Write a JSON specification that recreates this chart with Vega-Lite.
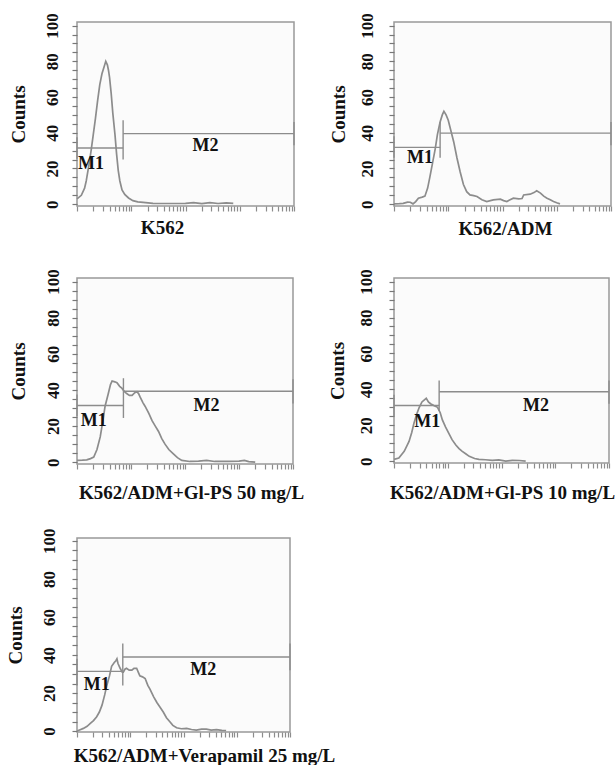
{
  "$schema": "https://vega.github.io/schema/vega-lite/v6.json",
  "padding": {"left": 5, "top": 12, "right": 0, "bottom": 0},
  "background": "white",
  "datasets": {
    "curves": [
      {"panel":"A","x":1,"y":3},{"panel":"A","x":1.202,"y":5},{"panel":"A","x":1.38,"y":9},{"panel":"A","x":1.479,"y":13},{"panel":"A","x":1.66,"y":22},{"panel":"A","x":1.82,"y":30},{"panel":"A","x":1.995,"y":39},{"panel":"A","x":2.188,"y":48},{"panel":"A","x":2.399,"y":58},{"panel":"A","x":2.63,"y":67},{"panel":"A","x":2.884,"y":73},{"panel":"A","x":3.162,"y":77},{"panel":"A","x":3.388,"y":80},{"panel":"A","x":3.631,"y":78},{"panel":"A","x":3.802,"y":75},{"panel":"A","x":3.981,"y":71},{"panel":"A","x":4.266,"y":62},{"panel":"A","x":4.571,"y":51},{"panel":"A","x":5.012,"y":39},{"panel":"A","x":5.37,"y":28},{"panel":"A","x":5.754,"y":19},{"panel":"A","x":6.166,"y":13},{"panel":"A","x":6.761,"y":8},{"panel":"A","x":7.586,"y":5.5},{"panel":"A","x":8.913,"y":3.5},{"panel":"A","x":10.72,"y":2},{"panel":"A","x":13.18,"y":1.3},{"panel":"A","x":16.6,"y":1},{"panel":"A","x":25.1,"y":0.5},{"panel":"A","x":50.1,"y":0.4},{"panel":"A","x":100,"y":0.5},{"panel":"A","x":141,"y":0.9},{"panel":"A","x":200,"y":0.3},{"panel":"A","x":282,"y":0.9},{"panel":"A","x":398,"y":0.4},{"panel":"A","x":562,"y":0.8},{"panel":"A","x":759,"y":0.5},
      {"panel":"B","x":1,"y":0.2},{"panel":"B","x":1.259,"y":0.3},{"panel":"B","x":1.479,"y":0.5},{"panel":"B","x":1.778,"y":1.2},{"panel":"B","x":1.995,"y":1.1},{"panel":"B","x":2.239,"y":0.2},{"panel":"B","x":2.512,"y":1.5},{"panel":"B","x":2.818,"y":3.4},{"panel":"B","x":3.311,"y":4},{"panel":"B","x":3.715,"y":4.5},{"panel":"B","x":4.169,"y":9},{"panel":"B","x":4.571,"y":15},{"panel":"B","x":5.129,"y":23},{"panel":"B","x":5.754,"y":31},{"panel":"B","x":6.31,"y":39},{"panel":"B","x":7.079,"y":46},{"panel":"B","x":7.762,"y":50},{"panel":"B","x":8.318,"y":52},{"panel":"B","x":9.12,"y":50},{"panel":"B","x":10,"y":47},{"panel":"B","x":11.22,"y":41},{"panel":"B","x":12.59,"y":35},{"panel":"B","x":14.45,"y":26},{"panel":"B","x":16.6,"y":18},{"panel":"B","x":19.05,"y":11},{"panel":"B","x":21.88,"y":7},{"panel":"B","x":25.12,"y":5.2},{"panel":"B","x":29.51,"y":4.8},{"panel":"B","x":33.88,"y":4.3},{"panel":"B","x":41.69,"y":2.5},{"panel":"B","x":51.29,"y":1.5},{"panel":"B","x":67.61,"y":2.4},{"panel":"B","x":91.2,"y":2.8},{"panel":"B","x":104.7,"y":2},{"panel":"B","x":120.2,"y":1.5},{"panel":"B","x":138,"y":2.5},{"panel":"B","x":158.5,"y":3.4},{"panel":"B","x":199.5,"y":3},{"panel":"B","x":229.1,"y":3.2},{"panel":"B","x":245.5,"y":5.2},{"panel":"B","x":323.6,"y":5.6},{"panel":"B","x":380.2,"y":6.5},{"panel":"B","x":426.6,"y":7.5},{"panel":"B","x":501.2,"y":6.2},{"panel":"B","x":575.4,"y":4.5},{"panel":"B","x":660.7,"y":3.4},{"panel":"B","x":758.6,"y":2.5},{"panel":"B","x":871,"y":1.5},{"panel":"B","x":1000,"y":0.8},{"panel":"B","x":1148,"y":0.2},
      {"panel":"C","x":1,"y":1},{"panel":"C","x":1.259,"y":1.1},{"panel":"C","x":1.514,"y":1.3},{"panel":"C","x":1.778,"y":2},{"panel":"C","x":2.042,"y":2.8},{"panel":"C","x":2.344,"y":7},{"panel":"C","x":2.692,"y":14},{"panel":"C","x":3.02,"y":23},{"panel":"C","x":3.311,"y":31},{"panel":"C","x":3.802,"y":38},{"panel":"C","x":4.169,"y":43},{"panel":"C","x":4.467,"y":45},{"panel":"C","x":5.012,"y":44.5},{"panel":"C","x":5.495,"y":44},{"panel":"C","x":6.166,"y":42},{"panel":"C","x":6.761,"y":41},{"panel":"C","x":7.586,"y":39},{"panel":"C","x":8.318,"y":38},{"panel":"C","x":9.333,"y":37},{"panel":"C","x":10.47,"y":37},{"panel":"C","x":11.75,"y":38.5},{"panel":"C","x":12.88,"y":39},{"panel":"C","x":13.8,"y":38},{"panel":"C","x":14.79,"y":36},{"panel":"C","x":16.6,"y":33},{"panel":"C","x":18.2,"y":31},{"panel":"C","x":21.38,"y":27},{"panel":"C","x":24.55,"y":23},{"panel":"C","x":28.18,"y":20},{"panel":"C","x":32.36,"y":17},{"panel":"C","x":37.15,"y":13},{"panel":"C","x":42.66,"y":10},{"panel":"C","x":50.12,"y":7},{"panel":"C","x":60.26,"y":4.7},{"panel":"C","x":72.44,"y":2.5},{"panel":"C","x":87.1,"y":1},{"panel":"C","x":123,"y":0.4},{"panel":"C","x":177.8,"y":0.6},{"panel":"C","x":251.2,"y":1},{"panel":"C","x":354.8,"y":0.4},{"panel":"C","x":631,"y":0.5},{"panel":"C","x":1000,"y":0.6},{"panel":"C","x":1259,"y":1},{"panel":"C","x":1514,"y":0.3},{"panel":"C","x":1995,"y":0},
      {"panel":"D","x":1,"y":1},{"panel":"D","x":1.23,"y":1.8},{"panel":"D","x":1.549,"y":5.5},{"panel":"D","x":1.905,"y":11},{"panel":"D","x":2.138,"y":16},{"panel":"D","x":2.344,"y":21},{"panel":"D","x":2.63,"y":26},{"panel":"D","x":2.951,"y":30},{"panel":"D","x":3.311,"y":33},{"panel":"D","x":3.631,"y":34},{"panel":"D","x":3.981,"y":35},{"panel":"D","x":4.365,"y":33},{"panel":"D","x":4.786,"y":32},{"panel":"D","x":5.495,"y":31},{"panel":"D","x":6.457,"y":30},{"panel":"D","x":7.244,"y":27},{"panel":"D","x":7.943,"y":23},{"panel":"D","x":9.12,"y":19},{"panel":"D","x":10.47,"y":15.5},{"panel":"D","x":12.02,"y":12},{"panel":"D","x":14.13,"y":9},{"panel":"D","x":16.22,"y":7},{"panel":"D","x":18.62,"y":5.5},{"panel":"D","x":21.88,"y":4},{"panel":"D","x":25.12,"y":2.7},{"panel":"D","x":31.62,"y":1.5},{"panel":"D","x":38.02,"y":1},{"panel":"D","x":50.12,"y":0.8},{"panel":"D","x":67.61,"y":0.5},{"panel":"D","x":89.13,"y":0.7},{"panel":"D","x":120.2,"y":0},{"panel":"D","x":158.5,"y":0.5},{"panel":"D","x":213.8,"y":0.4},{"panel":"D","x":281.8,"y":0},
      {"panel":"E","x":1,"y":0},{"panel":"E","x":1.148,"y":0.7},{"panel":"E","x":1.318,"y":1.4},{"panel":"E","x":1.549,"y":2.5},{"panel":"E","x":1.778,"y":4},{"panel":"E","x":2.042,"y":5.5},{"panel":"E","x":2.344,"y":7.5},{"panel":"E","x":2.63,"y":10},{"panel":"E","x":2.951,"y":13.6},{"panel":"E","x":3.311,"y":19},{"panel":"E","x":3.631,"y":24},{"panel":"E","x":4.074,"y":29},{"panel":"E","x":4.467,"y":34},{"panel":"E","x":5.012,"y":36},{"panel":"E","x":5.37,"y":37},{"panel":"E","x":5.623,"y":38},{"panel":"E","x":5.888,"y":35.5},{"panel":"E","x":6.457,"y":33},{"panel":"E","x":7.079,"y":31},{"panel":"E","x":7.413,"y":31},{"panel":"E","x":7.943,"y":32.5},{"panel":"E","x":8.511,"y":33},{"panel":"E","x":9.55,"y":32},{"panel":"E","x":10.72,"y":32},{"panel":"E","x":11.75,"y":33},{"panel":"E","x":13.18,"y":33},{"panel":"E","x":14.13,"y":31},{"panel":"E","x":15.14,"y":29},{"panel":"E","x":16.98,"y":28.5},{"panel":"E","x":19.05,"y":27.6},{"panel":"E","x":21.38,"y":24},{"panel":"E","x":23.44,"y":22},{"panel":"E","x":27.54,"y":18},{"panel":"E","x":31.62,"y":15},{"panel":"E","x":36.31,"y":12.5},{"panel":"E","x":41.69,"y":10},{"panel":"E","x":47.86,"y":7},{"panel":"E","x":54.95,"y":5},{"panel":"E","x":63.1,"y":3},{"panel":"E","x":74.13,"y":1.7},{"panel":"E","x":91.2,"y":1.2},{"panel":"E","x":114.8,"y":1.4},{"panel":"E","x":141.3,"y":0.8},{"panel":"E","x":173.8,"y":0.5},{"panel":"E","x":218.8,"y":1},{"panel":"E","x":269.2,"y":1},{"panel":"E","x":331.1,"y":0.5},{"panel":"E","x":416.9,"y":0.7},{"panel":"E","x":524.8,"y":0.4},{"panel":"E","x":631,"y":0.3}
    ],
    "gates": [
      {"panel":"A","x":1,"x2":7.08,"y":31.5},{"panel":"A","x":7.08,"x2":10000,"y":39.5},
      {"panel":"B","x":1,"x2":7.08,"y":31.8},{"panel":"B","x":7.08,"x2":10000,"y":39.8},
      {"panel":"C","x":1,"x2":7.24,"y":31.4},{"panel":"C","x":7.24,"x2":10000,"y":39.3},
      {"panel":"D","x":1,"x2":6.92,"y":31},{"panel":"D","x":6.92,"x2":10000,"y":38.7},
      {"panel":"E","x":1,"x2":7.24,"y":31.4},{"panel":"E","x":7.24,"x2":10000,"y":38.9}
    ],
    "ends": [
      {"panel":"A","x":1,"y":25.5,"y2":37.5},{"panel":"A","x":7.08,"y":25,"y2":47},{"panel":"A","x":10000,"y":33,"y2":46},
      {"panel":"B","x":1,"y":26,"y2":38},{"panel":"B","x":7.08,"y":26,"y2":46},{"panel":"B","x":10000,"y":33,"y2":46},
      {"panel":"C","x":1,"y":25.5,"y2":37.5},{"panel":"C","x":7.24,"y":24.5,"y2":46.5},{"panel":"C","x":10000,"y":32.5,"y2":46},
      {"panel":"D","x":1,"y":25,"y2":37},{"panel":"D","x":6.92,"y":28,"y2":45},{"panel":"D","x":10000,"y":32,"y2":45},
      {"panel":"E","x":1,"y":24,"y2":38},{"panel":"E","x":7.24,"y":24,"y2":46},{"panel":"E","x":10000,"y":32,"y2":46}
    ],
    "marks": [
      {"panel":"A","x":1.82,"y":22.4,"text":"M1"},{"panel":"A","x":234,"y":32.7,"text":"M2"},
      {"panel":"B","x":3.02,"y":26,"text":"M1"},
      {"panel":"C","x":2.04,"y":23,"text":"M1"},{"panel":"C","x":251,"y":31,"text":"M2"},
      {"panel":"D","x":4.17,"y":22,"text":"M1"},{"panel":"D","x":437,"y":31,"text":"M2"},
      {"panel":"E","x":2.34,"y":24,"text":"M1"},{"panel":"E","x":234,"y":32,"text":"M2"}
    ]
  },
  "vconcat": [
    {
      "vconcat": [
        {
          "hconcat": [
            {
              "width": 217, "height": 184,
              "encoding": {
                "x": {"field": "x", "type": "quantitative", "scale": {"type": "log", "domain": [1, 10000]},
                  "axis": {"title": "K562", "titleX": 85, "titleY": 27,
                    "values": [1,2,3,4,5,6,7,8,9,10,20,30,40,50,60,70,80,90,100,200,300,400,500,600,700,800,900,1000,2000,3000,4000,5000,6000,7000,8000,9000,10000],
                    "encode": {"ticks": {"update": {"y2": {"signal": "abs(log(datum.value)/LN10 - round(log(datum.value)/LN10)) < 0.001 ? 6 : 3"}}}}}},
                "y": {"field": "y", "type": "quantitative", "scale": {"domain": [-1, 102], "nice": false, "zero": false},
                  "axis": {"title": "Counts", "titleX": -53, "labelPadding": 14.5,
                    "values": [0,5,10,15,20,25,30,35,40,45,50,55,60,65,70,75,80,85,90,95,100],
                    "encode": {"ticks": {"update": {"x2": {"signal": "datum.value % 20 === 0 ? -6 : -3"}}}}}}
              },
              "layer": [
                {"data": {"name": "curves"}, "transform": [{"filter": "datum.panel === 'A'"}], "mark": {"type": "line", "color": "#8c8c8c", "strokeWidth": 1.7}},
                {"data": {"name": "gates"}, "transform": [{"filter": "datum.panel === 'A'"}], "mark": {"type": "rule", "color": "#8c8c8c", "strokeWidth": 1.4}, "encoding": {"x2": {"field": "x2"}}},
                {"data": {"name": "ends"}, "transform": [{"filter": "datum.panel === 'A'"}], "mark": {"type": "rule", "color": "#8c8c8c", "strokeWidth": 1.4}, "encoding": {"y2": {"field": "y2"}}},
                {"data": {"name": "marks"}, "transform": [{"filter": "datum.panel === 'A'"}], "mark": {"type": "text", "font": "Liberation Serif", "fontWeight": "bold", "fontSize": 18, "color": "#111111"}, "encoding": {"text": {"field": "text"}}}
              ]
            },
            {
              "width": 217, "height": 184,
              "encoding": {
                "x": {"field": "x", "type": "quantitative", "scale": {"type": "log", "domain": [1, 10000]},
                  "axis": {"title": "K562/ADM", "titleX": 111, "titleY": 28,
                    "values": [1,2,3,4,5,6,7,8,9,10,20,30,40,50,60,70,80,90,100,200,300,400,500,600,700,800,900,1000,2000,3000,4000,5000,6000,7000,8000,9000,10000],
                    "encode": {"ticks": {"update": {"y2": {"signal": "abs(log(datum.value)/LN10 - round(log(datum.value)/LN10)) < 0.001 ? 6 : 3"}}}}}},
                "y": {"field": "y", "type": "quantitative", "scale": {"domain": [-1, 102], "nice": false, "zero": false},
                  "axis": {"title": "Counts", "titleX": -50, "labelPadding": 17,
                    "values": [0,5,10,15,20,25,30,35,40,45,50,55,60,65,70,75,80,85,90,95,100],
                    "encode": {"ticks": {"update": {"x2": {"signal": "datum.value % 20 === 0 ? -6 : -3"}}}}}}
              },
              "layer": [
                {"data": {"name": "curves"}, "transform": [{"filter": "datum.panel === 'B'"}], "mark": {"type": "line", "color": "#8c8c8c", "strokeWidth": 1.7}},
                {"data": {"name": "gates"}, "transform": [{"filter": "datum.panel === 'B'"}], "mark": {"type": "rule", "color": "#8c8c8c", "strokeWidth": 1.4}, "encoding": {"x2": {"field": "x2"}}},
                {"data": {"name": "ends"}, "transform": [{"filter": "datum.panel === 'B'"}], "mark": {"type": "rule", "color": "#8c8c8c", "strokeWidth": 1.4}, "encoding": {"y2": {"field": "y2"}}},
                {"data": {"name": "marks"}, "transform": [{"filter": "datum.panel === 'B'"}], "mark": {"type": "text", "font": "Liberation Serif", "fontWeight": "bold", "fontSize": 18, "color": "#111111"}, "encoding": {"text": {"field": "text"}}}
              ]
            }
          ],
          "spacing": 100, "bounds": "flush"
        },
        {
          "hconcat": [
            {
              "width": 216, "height": 186,
              "encoding": {
                "x": {"field": "x", "type": "quantitative", "scale": {"type": "log", "domain": [1, 10000]},
                  "axis": {"title": "K562/ADM+Gl-PS 50 mg/L", "titleX": 114, "titleY": 34,
                    "values": [1,2,3,4,5,6,7,8,9,10,20,30,40,50,60,70,80,90,100,200,300,400,500,600,700,800,900,1000,2000,3000,4000,5000,6000,7000,8000,9000,10000],
                    "encode": {"ticks": {"update": {"y2": {"signal": "abs(log(datum.value)/LN10 - round(log(datum.value)/LN10)) < 0.001 ? 6 : 3"}}}}}},
                "y": {"field": "y", "type": "quantitative", "scale": {"domain": [-1, 102], "nice": false, "zero": false},
                  "axis": {"title": "Counts", "titleX": -53, "labelPadding": 14,
                    "values": [0,5,10,15,20,25,30,35,40,45,50,55,60,65,70,75,80,85,90,95,100],
                    "encode": {"ticks": {"update": {"x2": {"signal": "datum.value % 20 === 0 ? -6 : -3"}}}}}}
              },
              "layer": [
                {"data": {"name": "curves"}, "transform": [{"filter": "datum.panel === 'C'"}], "mark": {"type": "line", "color": "#8c8c8c", "strokeWidth": 1.7}},
                {"data": {"name": "gates"}, "transform": [{"filter": "datum.panel === 'C'"}], "mark": {"type": "rule", "color": "#8c8c8c", "strokeWidth": 1.4}, "encoding": {"x2": {"field": "x2"}}},
                {"data": {"name": "ends"}, "transform": [{"filter": "datum.panel === 'C'"}], "mark": {"type": "rule", "color": "#8c8c8c", "strokeWidth": 1.4}, "encoding": {"y2": {"field": "y2"}}},
                {"data": {"name": "marks"}, "transform": [{"filter": "datum.panel === 'C'"}], "mark": {"type": "text", "font": "Liberation Serif", "fontWeight": "bold", "fontSize": 18, "color": "#111111"}, "encoding": {"text": {"field": "text"}}}
              ]
            },
            {
              "width": 215, "height": 185,
              "encoding": {
                "x": {"field": "x", "type": "quantitative", "scale": {"type": "log", "domain": [1, 10000]},
                  "axis": {"title": "K562/ADM+Gl-PS 10 mg/L", "titleX": 108, "titleY": 35,
                    "values": [1,2,3,4,5,6,7,8,9,10,20,30,40,50,60,70,80,90,100,200,300,400,500,600,700,800,900,1000,2000,3000,4000,5000,6000,7000,8000,9000,10000],
                    "encode": {"ticks": {"update": {"y2": {"signal": "abs(log(datum.value)/LN10 - round(log(datum.value)/LN10)) < 0.001 ? 6 : 3"}}}}}},
                "y": {"field": "y", "type": "quantitative", "scale": {"domain": [-1, 102], "nice": false, "zero": false},
                  "axis": {"title": "Counts", "titleX": -51, "labelPadding": 18,
                    "values": [0,5,10,15,20,25,30,35,40,45,50,55,60,65,70,75,80,85,90,95,100],
                    "encode": {"ticks": {"update": {"x2": {"signal": "datum.value % 20 === 0 ? -6 : -3"}}}}}}
              },
              "layer": [
                {"data": {"name": "curves"}, "transform": [{"filter": "datum.panel === 'D'"}], "mark": {"type": "line", "color": "#8c8c8c", "strokeWidth": 1.7}},
                {"data": {"name": "gates"}, "transform": [{"filter": "datum.panel === 'D'"}], "mark": {"type": "rule", "color": "#8c8c8c", "strokeWidth": 1.4}, "encoding": {"x2": {"field": "x2"}}},
                {"data": {"name": "ends"}, "transform": [{"filter": "datum.panel === 'D'"}], "mark": {"type": "rule", "color": "#8c8c8c", "strokeWidth": 1.4}, "encoding": {"y2": {"field": "y2"}}},
                {"data": {"name": "marks"}, "transform": [{"filter": "datum.panel === 'D'"}], "mark": {"type": "text", "font": "Liberation Serif", "fontWeight": "bold", "fontSize": 18, "color": "#111111"}, "encoding": {"text": {"field": "text"}}}
              ]
            }
          ],
          "spacing": 101, "bounds": "flush"
        }
      ],
      "spacing": 29
    },
    {
      "width": 213, "height": 194,
      "encoding": {
        "x": {"field": "x", "type": "quantitative", "scale": {"type": "log", "domain": [1, 10000]},
          "axis": {"title": "K562/ADM+Verapamil 25 mg/L", "titleX": 127, "titleY": 29,
            "values": [1,2,3,4,5,6,7,8,9,10,20,30,40,50,60,70,80,90,100,200,300,400,500,600,700,800,900,1000,2000,3000,4000,5000,6000,7000,8000,9000,10000],
            "encode": {"ticks": {"update": {"y2": {"signal": "abs(log(datum.value)/LN10 - round(log(datum.value)/LN10)) < 0.001 ? 6 : 3"}}}}}},
        "y": {"field": "y", "type": "quantitative", "scale": {"domain": [-0.5, 101.5], "nice": false, "zero": false},
          "axis": {"title": "Counts", "titleX": -56, "labelPadding": 18,
            "values": [0,5,10,15,20,25,30,35,40,45,50,55,60,65,70,75,80,85,90,95,100],
            "encode": {"ticks": {"update": {"x2": {"signal": "datum.value % 20 === 0 ? -6 : -3"}}}}}}
      },
      "layer": [
        {"data": {"name": "curves"}, "transform": [{"filter": "datum.panel === 'E'"}], "mark": {"type": "line", "color": "#8c8c8c", "strokeWidth": 1.7}},
        {"data": {"name": "gates"}, "transform": [{"filter": "datum.panel === 'E'"}], "mark": {"type": "rule", "color": "#8c8c8c", "strokeWidth": 1.4}, "encoding": {"x2": {"field": "x2"}}},
        {"data": {"name": "ends"}, "transform": [{"filter": "datum.panel === 'E'"}], "mark": {"type": "rule", "color": "#8c8c8c", "strokeWidth": 1.4}, "encoding": {"y2": {"field": "y2"}}},
        {"data": {"name": "marks"}, "transform": [{"filter": "datum.panel === 'E'"}], "mark": {"type": "text", "font": "Liberation Serif", "fontWeight": "bold", "fontSize": 18, "color": "#111111"}, "encoding": {"text": {"field": "text"}}}
      ]
    }
  ],
  "spacing": 24,
  "config": {
    "font": "Liberation Serif",
    "view": {"stroke": "#999999", "strokeWidth": 1.5, "fill": "#fbfbfb"},
    "axisX": {
      "labels": false, "domain": false, "grid": false,
      "tickColor": "#8c8c8c", "tickWidth": 1.2, "tickSize": 5,
      "titleFont": "Liberation Serif", "titleFontSize": 19, "titleFontWeight": "bold", "titleColor": "#111111",
      "titleBaseline": "alphabetic", "titleAlign": "center"
    },
    "axisY": {
      "domain": false, "grid": false,
      "tickColor": "#777777", "tickWidth": 1.2, "tickSize": 5,
      "labelExpr": "datum.value % 20 === 0 ? datum.label : ''",
      "labelAngle": -90, "labelAlign": "center", "labelBaseline": "alphabetic",
      "labelFont": "Liberation Serif", "labelFontSize": 17, "labelFontWeight": "bold", "labelColor": "#111111",
      "labelOverlap": false, "labelFlush": false,
      "titleFont": "Liberation Serif", "titleFontSize": 19, "titleFontWeight": "bold", "titleColor": "#111111",
      "titleAngle": -90, "titleBaseline": "alphabetic", "titleAlign": "center"
    }
  }
}
